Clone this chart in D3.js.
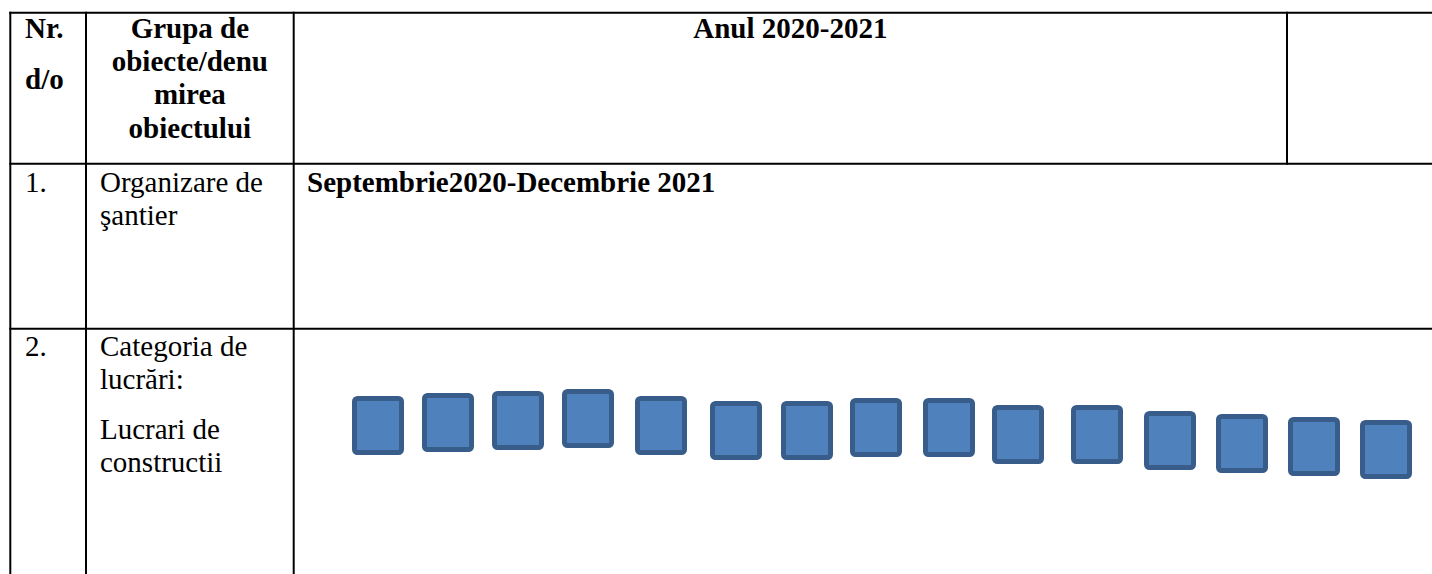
<!DOCTYPE html>
<html>
<head>
<meta charset="utf-8">
<script src="https://cdn.jsdelivr.net/npm/d3@7"></script>
<style>
  body { margin: 0; background: #fff; }
  svg { display: block; }
  text { font-family: "Liberation Serif", "Times New Roman", serif; font-size: 29px; fill: #000; }
  .bold { font-weight: bold; }
</style>
</head>
<body>
<div id="chart"></div>
<script>
// table texts
let headerNr = ["Nr.", "d/o"];
let headerGroup = ["Grupa de", "obiecte/denu", "mirea", "obiectului"];
let headerYear = "Anul 2020-2021";
let rowNumbers = ["1.", "2."];
let row1Name = ["Organizare de", "şantier"];
let row1Period = "Septembrie2020-Decembrie 2021";
let row2Name = ["Categoria de", "lucrări:"];
let row2Sub = ["Lucrari de", "constructii"];

// blocks of the schedule (one per month), offsets
let blockMonth = d3.range(15);
let blockShift = [0, 70, 140, 210, 283, 358, 429, 498, 571, 640, 719, 792, 864, 936, 1008];
let blockDrop = [7, 4, 2, 0, 7, 12, 12, 9, 9, 16, 16, 22, 25, 28, 31];

let svgWidth = 1432;
let svgHeight = 574;

let svg = d3.select('#chart')
    .append('svg')
    .attr('width', svgWidth)
    .attr('height', svgHeight);

// table grid
let colX = [10.3, 86, 293.7, 1287];
let rowY = [12.7, 163.7, 328.8];

let grid = svg.append('g')
    .attr('stroke', '#000')
    .attr('stroke-width', 2);

rowY.forEach(y => {
    grid.append('line')
        .attr('x1', colX[0] - 1).attr('x2', svgWidth)
        .attr('y1', y).attr('y2', y);
});
colX.forEach((x, i) => {
    grid.append('line')
        .attr('x1', x).attr('x2', x)
        .attr('y1', rowY[0] - 1)
        .attr('y2', i === 3 ? rowY[1] + 1 : svgHeight);
});

let lineH = 33.2;

// header
svg.selectAll('.hnr')
    .data(headerNr)
    .enter()
    .append('text')
    .attr('class', 'bold')
    .attr('x', 25)
    .attr('y', (d, i) => i === 0 ? 38 : 89)
    .text(d => d);

svg.selectAll('.hgroup')
    .data(headerGroup)
    .enter()
    .append('text')
    .attr('class', 'bold')
    .attr('text-anchor', 'middle')
    .attr('x', (colX[1] + colX[2]) / 2)
    .attr('y', (d, i) => 38 + i * lineH)
    .text(d => d);

svg.append('text')
    .attr('class', 'bold')
    .attr('text-anchor', 'middle')
    .attr('x', (colX[2] + colX[3]) / 2)
    .attr('y', 38)
    .text(headerYear);

// rows
svg.selectAll('.rnum')
    .data(rowNumbers)
    .enter()
    .append('text')
    .attr('x', 25)
    .attr('y', (d, i) => i === 0 ? 192 : 356)
    .text(d => d);

svg.selectAll('.r1')
    .data(row1Name)
    .enter()
    .append('text')
    .attr('x', 100)
    .attr('y', (d, i) => 192 + i * lineH)
    .text(d => d);

svg.append('text')
    .attr('class', 'bold')
    .attr('x', 307)
    .attr('y', 192)
    .text(row1Period);

svg.selectAll('.r2')
    .data(row2Name)
    .enter()
    .append('text')
    .attr('x', 100)
    .attr('y', (d, i) => 356 + i * lineH)
    .text(d => d);

svg.selectAll('.r2s')
    .data(row2Sub)
    .enter()
    .append('text')
    .attr('x', 100)
    .attr('y', (d, i) => 439 + i * lineH)
    .text(d => d);

// blocks
let xScale = d3.scaleLinear()
    .domain([0, d3.max(blockShift)])
    .range([352, 1360]);

let yScale = d3.scaleLinear()
    .domain([0, d3.max(blockDrop)])
    .range([389, 420]);

let sw = 5;
let blockW = 52;
let blockH = 59;

svg.selectAll('.block')
    .data(blockMonth)
    .enter()
    .append('rect')
    .attr('class', 'block')
    .attr('x', d => xScale(blockShift[d]) + sw / 2)
    .attr('y', d => yScale(blockDrop[d]) + sw / 2)
    .attr('width', blockW - sw)
    .attr('height', blockH - sw)
    .attr('rx', 3)
    .attr('fill', '#4F81BD')
    .attr('stroke', '#385D8A')
    .attr('stroke-width', sw);
</script>
</body>
</html>
